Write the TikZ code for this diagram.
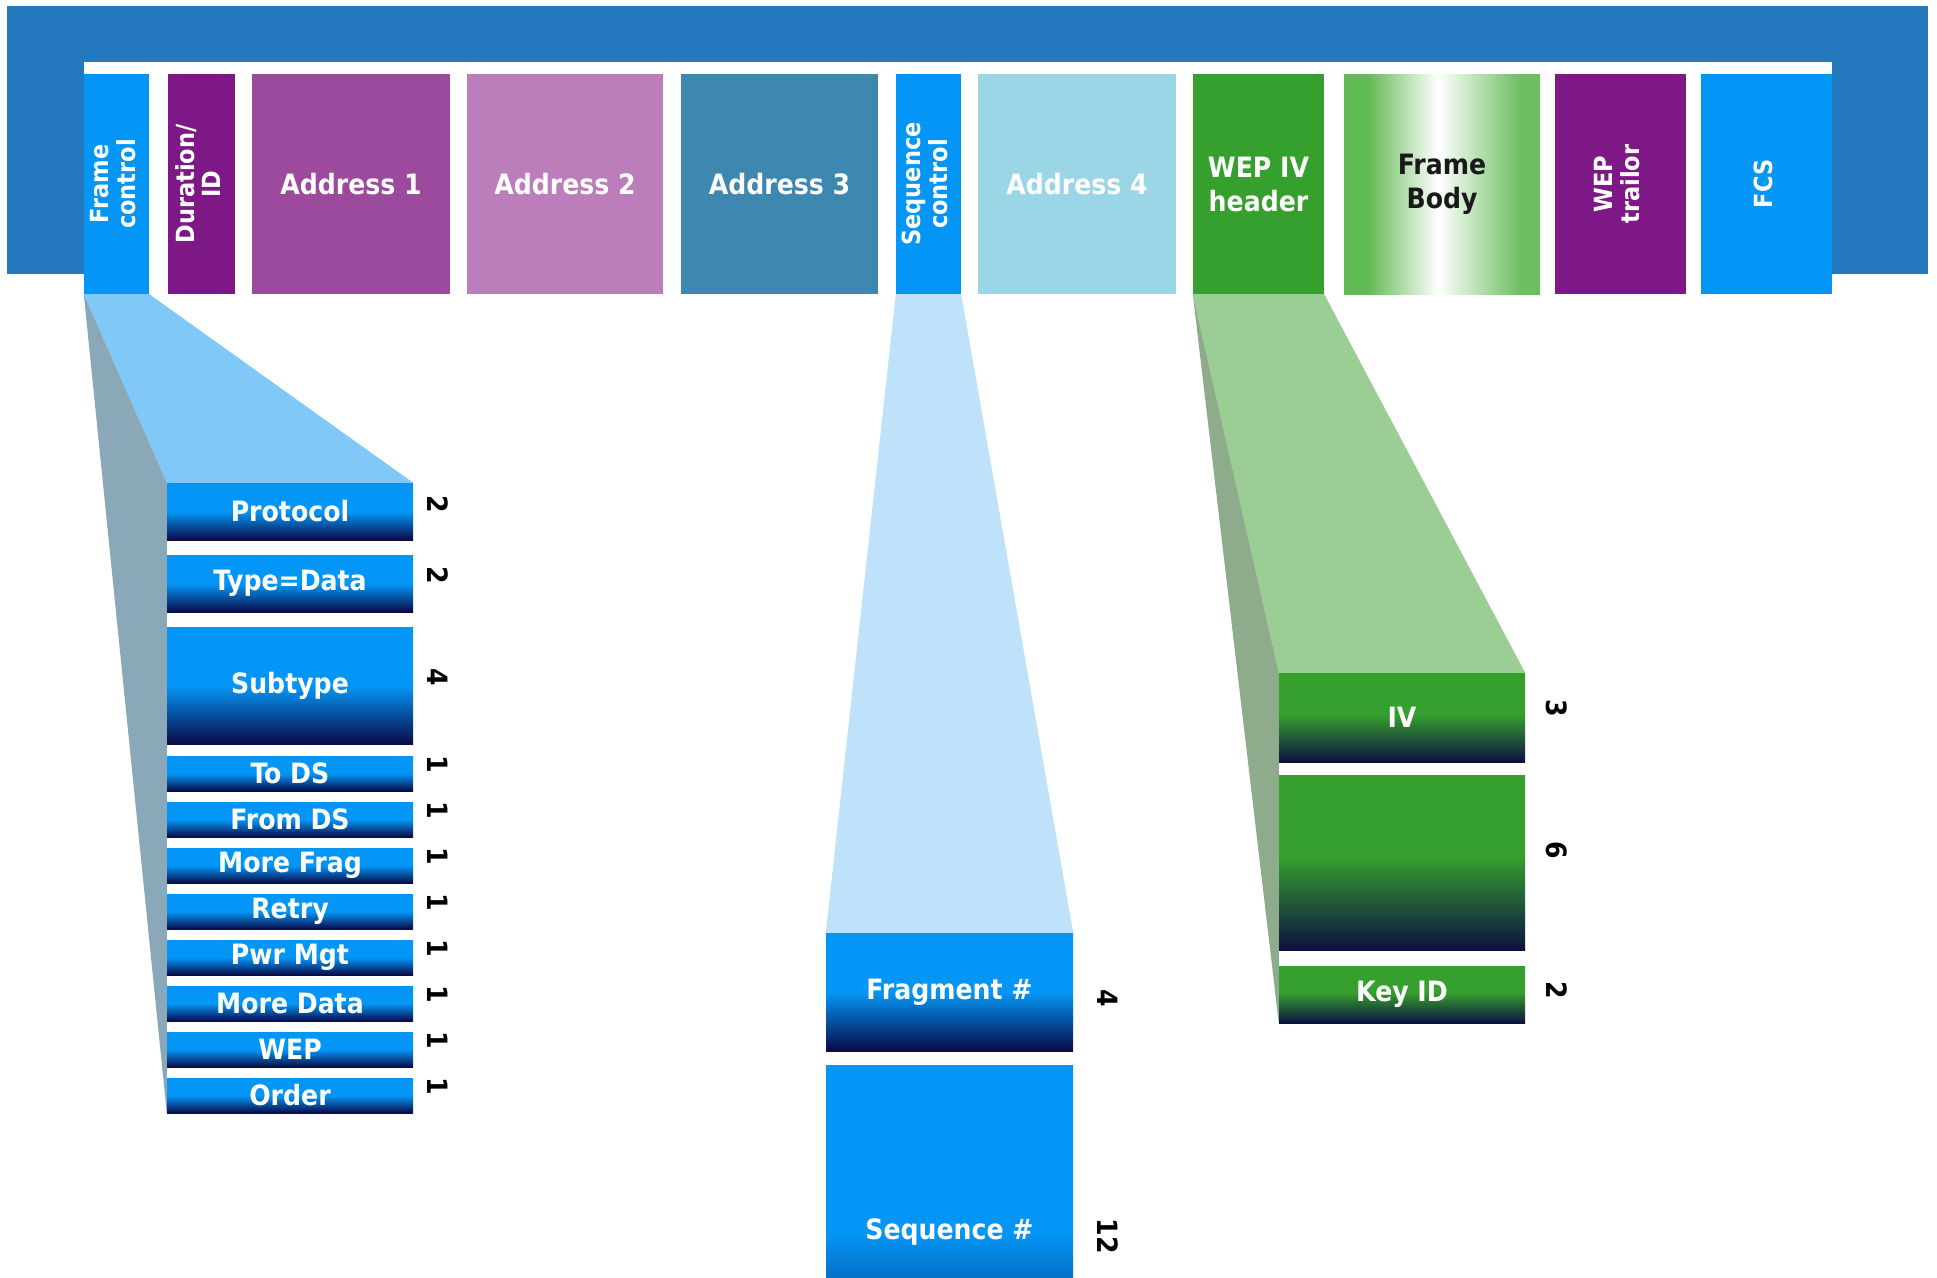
\documentclass[tikz,border=0pt]{standalone}
\usepackage{fontspec}
\usepackage{graphicx}
\newfontfamily\lblfont{DejaVu Sans Condensed}[BoldFont={DejaVu Sans Condensed Bold}]
\usetikzlibrary{calc}

\definecolor{banner}{RGB}{36,120,190}
\definecolor{azure}{RGB}{4,150,246}
\definecolor{durpurple}{RGB}{126,24,134}
\definecolor{addr1}{RGB}{155,74,158}
\definecolor{addr2}{RGB}{187,126,187}
\definecolor{addr3}{RGB}{62,135,176}
\definecolor{addr4}{RGB}{154,214,230}
\definecolor{wepgreen}{RGB}{54,160,46}
\definecolor{bodygreen}{RGB}{98,186,84}
\definecolor{bodygreenr}{RGB}{108,190,96}
\definecolor{navyc}{RGB}{10,10,70}
\definecolor{navyg}{RGB}{12,16,64}
\definecolor{fanblue}{RGB}{128,200,248}
\definecolor{fangrey}{RGB}{138,168,184}
\definecolor{fanpale}{RGB}{190,226,250}
\definecolor{fangreen}{RGB}{154,206,148}
\definecolor{fangreygreen}{RGB}{142,172,140}

\pgfdeclareverticalshading{bluebar}{100bp}{color(0bp)=(navyc); color(25bp)=(navyc); color(50bp)=(azure); color(100bp)=(azure)}
\pgfdeclareverticalshading{greenbar}{100bp}{color(0bp)=(navyg); color(25bp)=(navyg); color(52bp)=(wepgreen); color(100bp)=(wepgreen)}
\pgfdeclarehorizontalshading{bodyshade}{100bp}{color(0bp)=(bodygreen); color(31bp)=(bodygreen); color(49bp)=(white); color(70bp)=(bodygreenr); color(100bp)=(bodygreenr)}

\newcommand{\sidelabel}[1]{\rotatebox{90}{\begin{tabular}{@{}c@{}}#1\end{tabular}}}

\begin{document}
\begin{tikzpicture}[x=1pt,y=-1pt,
    topbox/.style={minimum height=220pt,inner sep=0pt,align=center,text=white,font=\lblfont\bfseries\fontsize{28}{34}\selectfont},
    sidebox/.style={minimum height=220pt,inner sep=0pt,text=white,font=\lblfont\bfseries\fontsize{25}{25}\selectfont},
    bluebox/.style={shade,shading=bluebar,minimum width=246pt,inner sep=0pt,text=white,font=\lblfont\bfseries\fontsize{28}{34}\selectfont},
    greenbox/.style={shade,shading=greenbar,minimum width=246pt,inner sep=0pt,text=white,font=\lblfont\bfseries\fontsize{28}{34}\selectfont},
    bits/.style={rotate=-90,inner sep=0pt,text=black,font=\lblfont\bfseries\fontsize{28}{34}\selectfont}
  ]
    \useasboundingbox (0,0) rectangle (1937,1277);
    \clip (0,0) rectangle (1937,1277);

    % Banner and slide area
    \fill[banner] (7,6) rectangle (1928,274);
    \fill[white] (84,62) rectangle (1832,1277);

    % MAC frame fields
    \node[sidebox,minimum width=65pt,fill=azure] (fc) at (116.5,184) {\sidelabel{Frame\\control}};
    \node[sidebox,minimum width=67pt,fill=durpurple] (dur) at (201.5,184) {\sidelabel{Duration/\\ID}};
    \node[topbox,minimum width=198pt,fill=addr1] (a1) at (351,184) {Address 1};
    \node[topbox,minimum width=196pt,fill=addr2] (a2) at (565,184) {Address 2};
    \node[topbox,minimum width=197pt,fill=addr3] (a3) at (779.5,184) {Address 3};
    \node[sidebox,minimum width=65pt,fill=azure] (sc) at (928.5,184) {\sidelabel{Sequence\\control}};
    \node[topbox,minimum width=198pt,fill=addr4] (a4) at (1077,184) {Address 4};
    \node[topbox,minimum width=131pt,fill=wepgreen] (wiv) at (1258.5,184) {WEP IV\\header};
    \node[topbox,minimum width=196pt,shade,shading=bodyshade,text=black!90] (fb) at (1442,184) {Frame\\Body};
    \node[sidebox,minimum width=131pt,fill=durpurple] (wt) at (1620.5,184) {\sidelabel{WEP\\trailor}};
    \node[sidebox,minimum width=131pt,fill=azure] (fcs) at (1766.5,184) {\sidelabel{FCS}};

    % Frame control subfields
    \node[bluebox,minimum height=57pt] (proto) at (290,511.5) {Protocol};
    \node[bluebox,minimum height=57pt] (typ) at (290,583.5) {Type=Data};
    \node[bluebox,minimum height=117pt] (sub) at (290,685.5) {Subtype};
    \node[bluebox,minimum height=35pt] (tods) at (290,773.5) {To DS};
    \node[bluebox,minimum height=35pt] (fromds) at (290,819.5) {From DS};
    \node[bluebox,minimum height=35pt] (mfrag) at (290,865.5) {More Frag};
    \node[bluebox,minimum height=35pt] (retry) at (290,911.5) {Retry};
    \node[bluebox,minimum height=35pt] (pwr) at (290,957.5) {Pwr Mgt};
    \node[bluebox,minimum height=35pt] (mdata) at (290,1003.5) {More Data};
    \node[bluebox,minimum height=35pt] (wep) at (290,1049.5) {WEP};
    \node[bluebox,minimum height=35pt] (order) at (290,1095.5) {Order};

    \node[bits] (bproto) at (438,504) {2};
    \node[bits] (btyp) at (438,575) {2};
    \node[bits] (bsub) at (438,677) {4};
    \node[bits] (btods) at (438,764) {1};
    \node[bits] (bfromds) at (438,810) {1};
    \node[bits] (bmfrag) at (438,856) {1};
    \node[bits] (bretry) at (438,902) {1};
    \node[bits] (bpwr) at (438,948) {1};
    \node[bits] (bmdata) at (438,994) {1};
    \node[bits] (bwep) at (438,1040) {1};
    \node[bits] (border) at (438,1086) {1};

    % Sequence control subfields
    \node[bluebox,minimum width=247pt,minimum height=118pt] (frag) at (949.5,992) {Fragment \#};
    \node[bluebox,minimum width=247pt,minimum height=335pt] (seqn) at (949.5,1232.5) {Sequence \#};
    \node[bits] (bfrag) at (1108,998) {4};
    \node[bits] (bseqn) at (1108,1236) {12};

    % WEP IV header subfields
    \node[greenbox,minimum height=89pt] (iv) at (1402,717.5) {IV};
    \node[greenbox,minimum height=175pt] (pad) at (1402,862.5) {};
    \node[greenbox,minimum height=57pt] (key) at (1402,994.5) {Key ID};
    \node[bits] (biv) at (1557,708) {3};
    \node[bits] (bpad) at (1557,850) {6};
    \node[bits] (bkey) at (1557,990) {2};

    % Expansion fans
    \fill[fanblue] (fc.south west) -- (fc.south east) -- (proto.north east) -- (proto.north west) -- cycle;
    \fill[fangrey] (fc.south west) -- (proto.north west) -- (order.south west) -- cycle;
    \fill[fanpale] (sc.south west) -- (sc.south east) -- (frag.north east) -- (frag.north west) -- cycle;
    \fill[fangreen] (wiv.south west) -- (wiv.south east) -- (iv.north east) -- (iv.north west) -- cycle;
    \fill[fangreygreen] (wiv.south west) -- (iv.north west) -- (key.south west) -- cycle;
\end{tikzpicture}
\end{document}
